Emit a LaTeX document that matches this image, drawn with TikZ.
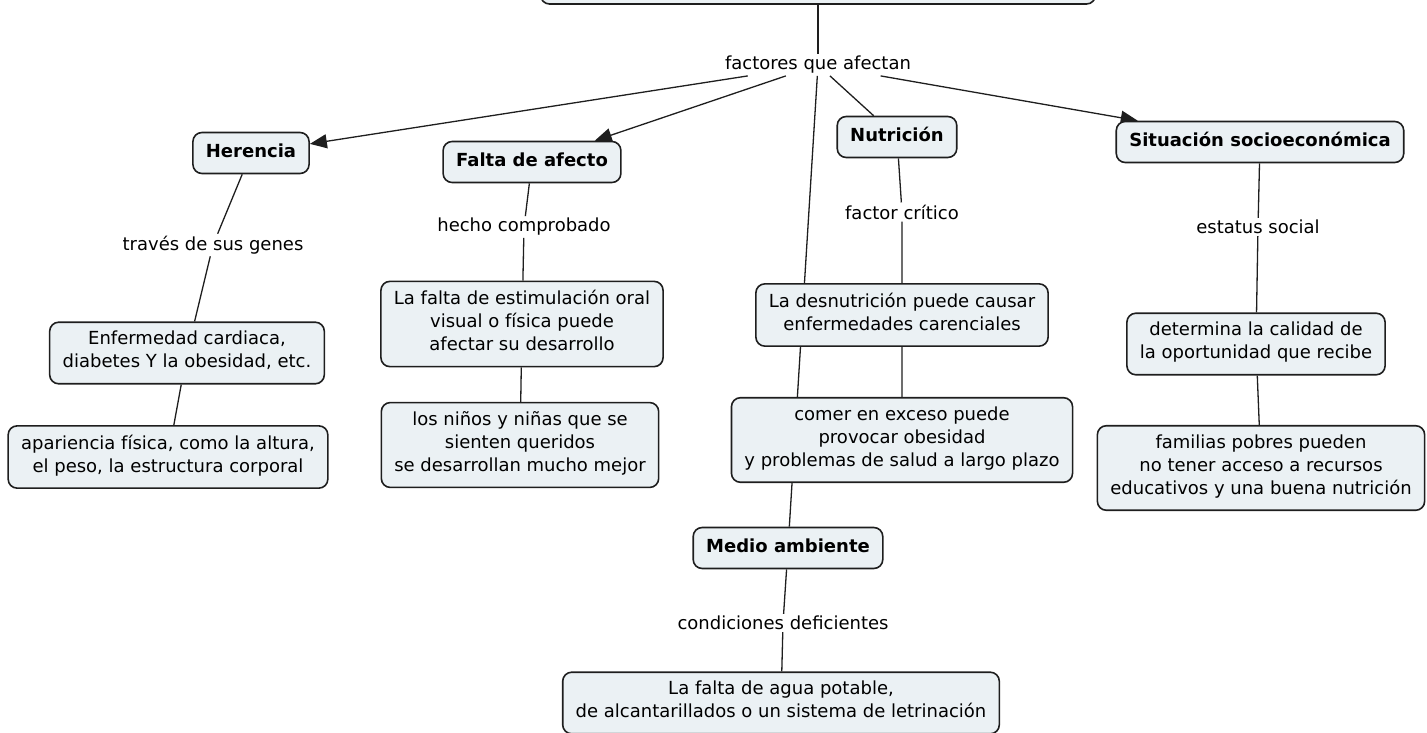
\documentclass[tikz,border=0pt]{standalone}
\usepackage{fontspec}
\setmainfont{DejaVu Sans}
\usetikzlibrary{arrows.meta}
\definecolor{boxfill}{RGB}{235,241,244}
\definecolor{boxline}{RGB}{30,30,30}
\pgfdeclarelayer{back}
\pgfsetlayers{back,main}
\tikzset{
  concept/.style={draw=boxline, line width=1.6pt, fill=boxfill, rounded corners=9pt,
    font=\fontsize{18}{23}\selectfont\bfseries, inner xsep=13pt, inner ysep=9pt,
    execute at begin node=\strut},
  idea/.style={concept, font=\fontsize{18}{23}\selectfont, align=center,
    execute at end node=\strut},
  link/.style={font=\fontsize{18}{23}\selectfont, inner sep=2pt},
  conn/.style={line width=1.3pt, draw=boxline}
}
\begin{document}
\begin{tikzpicture}[x=1pt, y=-1pt, >={Triangle[length=17pt,width=14pt]}]
        \useasboundingbox (0,0) rectangle (1427,733);
        % main concepts
        \node[concept, minimum width=555pt, minimum height=60pt] (top) at (818,-26) {};
        \node[link] (fac) at (818,65) {factores que afectan};
        \node[concept] (her) at (251,153) {Herencia};
        \node[concept] (afe) at (532,162) {Falta de afecto};
        \node[concept] (nut) at (897,137) {Nutrición};
        \node[concept] (soc) at (1260,142) {Situación socioeconómica};
        \node[concept] (med) at (788,548) {Medio ambiente};
        % linking phrases
        \node[link] (gen) at (213,245) {través de sus genes};
        \node[link] (hec) at (524,227) {hecho comprobado};
        \node[link] (cri) at (902,212) {factor crítico};
        \node[link] (est) at (1258,227) {estatus social};
        \node[link] (cnd) at (783,623) {condiciones deficientes};
        % ideas
        \node[idea] (enf) at (187,353) {Enfermedad cardiaca,\\diabetes Y la obesidad, etc.};
        \node[idea] (apa) at (168,457) {apariencia física, como la altura,\\el peso, la estructura corporal};
        \node[idea] (sti) at (522,324) {La falta de estimulación oral\\visual o física puede\\afectar su desarrollo};
        \node[idea] (nin) at (520,445) {los niños y niñas que se\\sienten queridos\\se desarrollan mucho mejor};
        \node[idea] (des) at (902,315) {La desnutrición puede causar\\enfermedades carenciales};
        \node[idea] (exc) at (902,440) {comer en exceso puede\\provocar obesidad\\y problemas de salud a largo plazo};
        \node[idea] (det) at (1256,344) {determina la calidad de\\la oportunidad que recibe};
        \node[idea] (fam) at (1261,468) {familias pobres pueden\\no tener acceso a recursos\\educativos y una buena nutrición};
        \node[idea] (agu) at (781,703) {La falta de agua potable,\\de alcantarillados o un sistema de letrinación};
        % connectors
        \begin{pgfonlayer}{back}
        \draw[conn] (top) -- (fac);
        \draw[conn,->] (fac) -- (her);
        \draw[conn,->] (fac) -- (afe);
        \draw[conn] (fac) -- (nut);
        \draw[conn,->] (fac) -- (soc);
        \draw[conn] (fac) -- (med);
        \draw[conn] (her) -- (gen) -- (enf) -- (apa);
        \draw[conn] (afe) -- (hec) -- (sti) -- (nin);
        \draw[conn] (nut) -- (cri) -- (des) -- (exc);
        \draw[conn] (soc) -- (est) -- (det) -- (fam);
        \draw[conn] (med) -- (cnd) -- (agu);
        \end{pgfonlayer}
    \end{tikzpicture}
\end{document}
